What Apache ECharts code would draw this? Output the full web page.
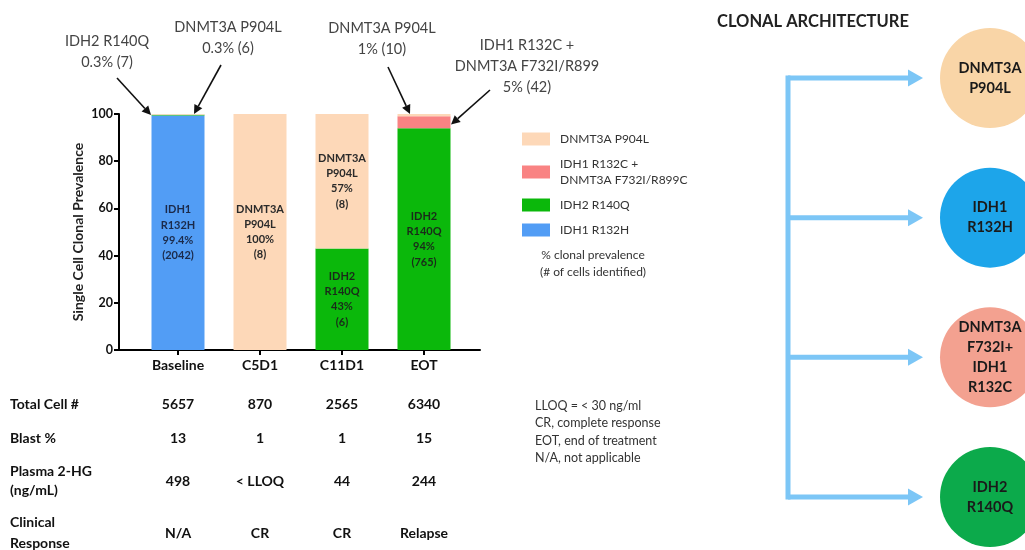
<!DOCTYPE html>
<html>
<head>
<meta charset="utf-8">
<script src="https://cdn.jsdelivr.net/npm/echarts@6/dist/echarts.min.js"></script>
<style>
html, body { margin: 0; padding: 0; background: #ffffff; }
#chart { width: 1025px; height: 550px; }
</style>
</head>
<body>
<div id="chart"></div>
<script>
// ---- data ----
const timepoints = ['Baseline', 'C5D1', 'C11D1', 'EOT'];
const yTicks = [0, 20, 40, 60, 80, 100];

// clonal prevalence (%) per timepoint, stacked bottom to top
const idh1R132H       = [99.4, 0, 0, 0];
const idh2R140Q       = [0.3, 0, 43, 94];
const idh1R132CDnmt3a = [0, 0, 0, 5];
const dnmt3aP904L     = [0.3, 100, 57, 1];

// number of cells identified per clone
const idh1R132HCells       = [2042, 0, 0, 0];
const idh2R140QCells       = [7, 0, 6, 765];
const idh1R132CDnmt3aCells = [0, 0, 0, 42];
const dnmt3aP904LCells     = [6, 8, 8, 10];

// table under the chart
const tableRowLabels   = ['Total Cell #', 'Blast %', 'Plasma 2-HG\n(ng/mL)', 'Clinical\nResponse'];
const totalCells       = ['5657', '870', '2565', '6340'];
const blastPct         = ['13', '1', '1', '15'];
const plasma2HG        = ['498', '< LLOQ', '44', '244'];
const clinicalResponse = ['N/A', 'CR', 'CR', 'Relapse'];

const footnotes = ['LLOQ = < 30 ng/ml', 'CR, complete response', 'EOT, end of treatment', 'N/A, not applicable'];
const architectureClones = ['DNMT3A\nP904L', 'IDH1\nR132H', 'DNMT3A\nF732I+\nIDH1\nR132C', 'IDH2\nR140Q'];

// ---- styling ----
const FONT = 'Lato, "Open Sans", sans-serif';
const clones = [
  { name: 'IDH1 R132H', short: 'IDH1\nR132H', values: idh1R132H, cells: idh1R132HCells, color: '#529DF5', text: '#1b2a4a' },
  { name: 'IDH2 R140Q', short: 'IDH2\nR140Q', values: idh2R140Q, cells: idh2R140QCells, color: '#0BB80B', text: '#1a2a1a' },
  { name: 'IDH1 R132C + DNMT3A F732I/R899C', short: 'IDH1 R132C +\nDNMT3A F732I/R899', values: idh1R132CDnmt3a, cells: idh1R132CDnmt3aCells, color: '#F98383', text: '#222' },
  { name: 'DNMT3A P904L', short: 'DNMT3A\nP904L', values: dnmt3aP904L, cells: dnmt3aP904LCells, color: '#FDD8B8', text: '#2a2a2a' }
];
const circleColors = ['#F9D5A7', '#1DA5EA', '#F3A190', '#0CAA4B'];

const pct = v => (Number.isInteger(v) ? v : v.toFixed(1)) + '%';

const barSeries = clones.map(c => ({
  name: c.name,
  type: 'bar',
  stack: 'prevalence',
  barWidth: 53,
  xAxisIndex: 0,
  yAxisIndex: 0,
  itemStyle: { color: c.color },
  label: {
    position: 'inside',
    color: c.text,
    fontFamily: FONT,
    fontSize: 11,
    fontWeight: 'bold',
    lineHeight: 15.3
  },
  data: c.values.map((v, i) => ({
    value: v,
    label: { show: v >= 10, formatter: c.short + '\n' + pct(v) + '\n(' + c.cells[i] + ')' }
  }))
}));

const chart = echarts.init(document.getElementById('chart'), null, { renderer: 'canvas' });

chart.setOption({
  backgroundColor: '#ffffff',
  animation: false,
  title: {
    text: 'CLONAL ARCHITECTURE',
    left: 712, top: 8,
    textStyle: { fontFamily: FONT, fontSize: 16.5, fontWeight: 'bold', color: '#222' }
  },
  legend: {
    orient: 'vertical',
    left: 517, top: 126,
    itemWidth: 28, itemHeight: 13, itemGap: 9,
    icon: 'rect',
    selectedMode: false,
    data: ['DNMT3A P904L', 'IDH1 R132C + DNMT3A F732I/R899C', 'IDH2 R140Q', 'IDH1 R132H'],
    formatter: n => n.replace(' + ', ' +\n'),
    textStyle: { fontFamily: FONT, fontSize: 12, color: '#333', lineHeight: 16, padding: [0, 0, 0, 5] }
  },
  grid: [
    // bars: four category slots of equal width
    { left: 137, right: 560, top: 114, bottom: 200 },
    // clonal architecture circles
    { left: 955, right: 0, top: 78, bottom: 53 },
    // full-width baseline of the bar chart
    { left: 119, right: 545, top: 114, bottom: 200 }
  ],
  xAxis: [
    {
      gridIndex: 0, type: 'category', data: timepoints,
      axisLine: { show: false },
      axisTick: { show: true, alignWithLabel: true, length: 5, lineStyle: { color: '#000', width: 2 } },
      axisLabel: { margin: 8, fontFamily: FONT, fontSize: 14, fontWeight: 'bold', color: '#111' }
    },
    { gridIndex: 1, type: 'value', min: -1, max: 1, show: false },
    {
      gridIndex: 2, type: 'value', min: 0, max: 1,
      splitLine: { show: false }, axisTick: { show: false }, axisLabel: { show: false },
      axisLine: { show: true, lineStyle: { color: '#000', width: 2 } }
    }
  ],
  yAxis: [
    {
      gridIndex: 0, type: 'value', min: yTicks[0], max: yTicks[yTicks.length - 1], interval: 20,
      offset: 18,
      name: 'Single Cell Clonal Prevalence', nameLocation: 'middle', nameGap: 34,
      nameTextStyle: { fontFamily: FONT, fontSize: 14, fontWeight: 'bold', color: '#222' },
      splitLine: { show: false },
      axisLine: { show: true, lineStyle: { color: '#000', width: 2 } },
      axisTick: { show: true, length: 5, lineStyle: { color: '#000', width: 2 } },
      axisLabel: { fontFamily: FONT, fontSize: 12.5, fontWeight: 'bold', color: '#111', margin: 6 }
    },
    { gridIndex: 1, type: 'value', min: 0, max: 3, inverse: true, show: false },
    { gridIndex: 2, type: 'value', min: 0, max: 1, show: false }
  ],
  series: barSeries.concat([{
    name: 'Clonal architecture',
    type: 'scatter',
    xAxisIndex: 1, yAxisIndex: 1,
    clip: false,
    symbol: 'circle',
    symbolSize: 100,
    label: {
      show: true, position: 'inside', color: '#1a1a1a',
      fontFamily: FONT, fontSize: 14.5, fontWeight: 'bold', lineHeight: 20,
      formatter: p => architectureClones[p.dataIndex]
    },
    data: architectureClones.map((c, i) => ({ value: [0, i], itemStyle: { color: circleColors[i], opacity: 1 } }))
  }])
});

// ---- annotations, tree arrows and table, positioned from the axes ----
const toPx = (i, v) => chart.convertToPixel({ xAxisIndex: 0, yAxisIndex: 0 }, [i, v]);
const graphics = [];

function arrow(x1, y1, x2, y2, color, width, headLen, headHalf) {
  const dx = x2 - x1, dy = y2 - y1, len = Math.hypot(dx, dy);
  const ux = dx / len, uy = dy / len;
  const bx = x2 - ux * headLen, by = y2 - uy * headLen;
  graphics.push({ type: 'line', shape: { x1, y1, x2: bx, y2: by }, style: { stroke: color, lineWidth: width }, silent: true });
  graphics.push({
    type: 'polygon', silent: true,
    shape: { points: [[x2, y2], [bx - uy * headHalf, by + ux * headHalf], [bx + uy * headHalf, by - ux * headHalf]] },
    style: { fill: color }
  });
}

// callouts for the thin segments on top of the bars
const callouts = [
  { clone: 1, cat: 0, text: 'IDH2 R140Q\n0.3% (7)', tx: 107, ty: 52, fx: 117, fy: 78, dx: -27, frac: 0.5 },
  { clone: 3, cat: 0, text: 'DNMT3A P904L\n0.3% (6)', tx: 228, ty: 38, fx: 221, fy: 65, dx: 16, frac: 1 },
  { clone: 3, cat: 3, text: 'DNMT3A P904L\n1% (10)', tx: 382, ty: 39, fx: 388, fy: 67, dx: -14, frac: 1 },
  { clone: 2, cat: 3, text: 'IDH1 R132C +\nDNMT3A F732I/R899\n5% (42)', tx: 527, ty: 66, fx: 490, fy: 90, dx: 27, frac: 0.3 }
];
callouts.forEach(c => {
  let base = 0;
  for (let k = 0; k < c.clone; k++) base += clones[k].values[c.cat];
  const v = clones[c.clone].values[c.cat];
  const p = toPx(c.cat, base + v * c.frac);
  graphics.push({
    type: 'text', x: c.tx, y: c.ty, silent: true,
    style: { text: c.text, fill: '#444', fontFamily: FONT, fontSize: 14.5, lineHeight: 21, align: 'center', verticalAlign: 'middle' }
  });
  arrow(c.fx, c.fy, p[0] + c.dx, p[1], '#111', 1.6, 9, 4.5);
});

// legend note
graphics.push({
  type: 'text', x: 593, y: 264, silent: true,
  style: { text: '% clonal prevalence\n(# of cells identified)', fill: '#333', fontFamily: FONT, fontSize: 12, lineHeight: 17, align: 'center', verticalAlign: 'middle' }
});

// footnotes
graphics.push({
  type: 'text', x: 535, y: 432, silent: true,
  style: { text: footnotes.join('\n'), fill: '#333', fontFamily: FONT, fontSize: 12.5, lineHeight: 17.5, align: 'left', verticalAlign: 'middle' }
});

// table
const tableValues = [totalCells, blastPct, plasma2HG, clinicalResponse];
const rowY = [404, 438, 481, 533];
const rowLH = [18, 18, 18.5, 21];
tableRowLabels.forEach((lab, r) => {
  graphics.push({
    type: 'text', x: 10, y: rowY[r], silent: true,
    style: { text: lab, fill: '#111', fontFamily: FONT, fontSize: 14, fontWeight: 'bold', lineHeight: rowLH[r], align: 'left', verticalAlign: 'middle' }
  });
  tableValues[r].forEach((val, i) => {
    const x = toPx(i, 0)[0];
    graphics.push({
      type: 'text', x, y: rowY[r], silent: true,
      style: { text: val, fill: '#111', fontFamily: FONT, fontSize: 14, fontWeight: 'bold', align: 'center', verticalAlign: 'middle' }
    });
  });
});

// clonal architecture tree
const treeColor = '#7CC6F6';
const branchY = architectureClones.map((c, i) => chart.convertToPixel({ xAxisIndex: 1, yAxisIndex: 1 }, [0, i]));
const trunkX = 788;
graphics.push({
  type: 'line', silent: true,
  shape: { x1: trunkX, y1: branchY[0][1] - 2.5, x2: trunkX, y2: branchY[branchY.length - 1][1] + 2.5 },
  style: { stroke: treeColor, lineWidth: 5 }
});
branchY.forEach(p => {
  arrow(trunkX, p[1], p[0] - 50 - 17, p[1], treeColor, 5, 15, 8.5);
});

chart.setOption({ graphic: graphics });
</script>
</body>
</html>
